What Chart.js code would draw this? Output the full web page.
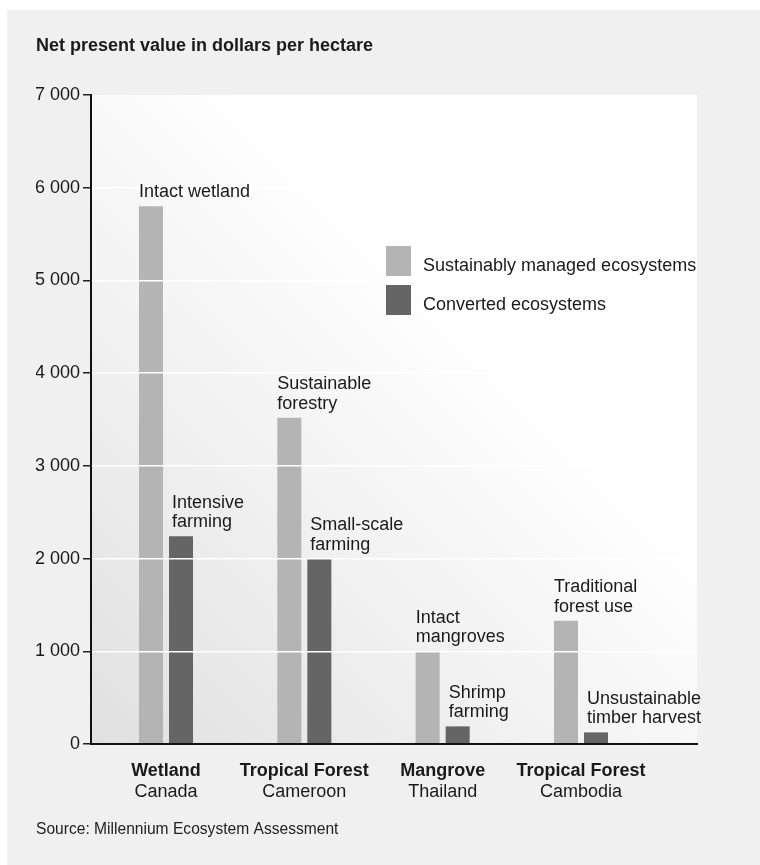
<!DOCTYPE html>
<html lang="en">
<head>
<meta charset="UTF-8">
<title>Net present value in dollars per hectare</title>
<script src="https://cdn.jsdelivr.net/npm/chart.js@4"></script>
<style>
  html, body { margin: 0; padding: 0; background: #ffffff; }
  #chart { display: block; }
</style>
</head>
<body>
<canvas id="chart" width="760" height="865"></canvas>
<script>
  // data
  const categories = ['Wetland', 'Tropical Forest', 'Mangrove', 'Tropical Forest'];
  const countries = ['Canada', 'Cameroon', 'Thailand', 'Cambodia'];
  const seriesNames = ['Sustainably managed ecosystems', 'Converted ecosystems'];
  const sustainable = [5800, 3520, 1000, 1330];
  const converted = [2240, 2000, 190, 125];
  const sustainableNotes = [['Intact wetland'], ['Sustainable', 'forestry'], ['Intact', 'mangroves'], ['Traditional', 'forest use']];
  const convertedNotes = [['Intensive', 'farming'], ['Small-scale', 'farming'], ['Shrimp', 'farming'], ['Unsustainable', 'timber harvest']];

  const FONT = "'Liberation Sans', Arial, sans-serif";
  const INK = '#1a1a1a';
  Chart.defaults.font.family = FONT;

  const thousands = v => String(v).replace(/\B(?=(\d{3})+(?!\d))/g, ' ');
  const catTicks = scale => { scale.ticks = categories.map((_, i) => ({ value: i })); };

  // grey panel + shaded plot area
  const backdrop = {
    id: 'backdrop',
    beforeDraw(chart) {
      const { ctx, chartArea: a } = chart;
      ctx.save();
      ctx.fillStyle = '#ffffff';
      ctx.fillRect(0, 0, chart.width, chart.height);
      ctx.fillStyle = '#f0f0f0';
      ctx.fillRect(7, 10, chart.width - 7, chart.height - 10);
      const g = ctx.createLinearGradient(a.left, a.bottom, a.left + 400, a.bottom - 400);
      g.addColorStop(0, '#e0e0e0');
      g.addColorStop(1, '#ffffff');
      ctx.fillStyle = g;
      ctx.fillRect(a.left, a.top, a.width, a.height);
      ctx.restore();
    }
  };

  // text above each bar, left aligned on the bar
  const barNotes = {
    id: 'barNotes',
    afterDraw(chart) {
      const ctx = chart.ctx;
      ctx.save();
      ctx.font = '18px ' + FONT;
      ctx.fillStyle = INK;
      ctx.textAlign = 'left';
      ctx.textBaseline = 'alphabetic';
      [sustainableNotes, convertedNotes].forEach((notes, d) => {
        chart.getDatasetMeta(d).data.forEach((bar, i) => {
          const lines = notes[i];
          const x = bar.x - bar.width / 2 + (d ? 3 : 0);
          lines.forEach((line, k) => {
            ctx.fillText(line, x, bar.y - 9 - (lines.length - 1 - k) * 19.5);
          });
        });
      });
      ctx.restore();
    }
  };

  // legend with tall boxes inside the plot
  const boxLegend = {
    id: 'boxLegend',
    afterDraw(chart) {
      const { ctx, chartArea: a } = chart;
      const x = a.left + 295, y0 = a.top + 151;
      ctx.save();
      ctx.font = '18px ' + FONT;
      ctx.textBaseline = 'alphabetic';
      chart.data.datasets.forEach((ds, i) => {
        const y = y0 + i * 39;
        ctx.fillStyle = ds.backgroundColor;
        ctx.fillRect(x, y, 25, 30);
        ctx.fillStyle = INK;
        ctx.fillText(ds.label, x + 37, y + 24.5);
      });
      ctx.restore();
    }
  };

  new Chart(document.getElementById('chart'), {
    type: 'bar',
    data: {
      datasets: [{
        label: seriesNames[0],
        data: sustainable.map((v, i) => ({ x: i, y: v })),
        backgroundColor: '#b4b4b4',
        categoryPercentage: 0.434,
        barPercentage: 0.8
      }, {
        label: seriesNames[1],
        data: converted.map((v, i) => ({ x: i, y: v })),
        backgroundColor: '#656565',
        categoryPercentage: 0.434,
        barPercentage: 0.8
      }]
    },
    options: {
      responsive: false,
      animation: false,
      devicePixelRatio: 1,
      layout: { padding: { left: 36, right: 63, top: 0, bottom: 0 } },
      plugins: {
        legend: { display: false },
        tooltip: { enabled: false },
        title: {
          display: true,
          text: 'Net present value in dollars per hectare',
          align: 'start',
          color: INK,
          font: { size: 18, weight: 'bold' },
          padding: { top: 35, bottom: 38.4 }
        },
        subtitle: {
          display: true,
          position: 'bottom',
          align: 'start',
          text: 'Source: Millennium Ecosystem Assessment',
          color: '#222',
          font: { size: 15.6 },
          padding: { top: 16.6, bottom: 25.7 }
        }
      },
      scales: {
        x: {
          type: 'linear',
          offset: false,
          min: -0.5422,
          max: 3.8387,
          afterBuildTicks: catTicks,
          afterFit: s => { s.height = 38; },
          grid: { display: false, drawTicks: false },
          border: { color: '#111', width: 2, z: 1 },
          ticks: {
            autoSkip: false,
            maxRotation: 0,
            padding: 16,
            color: INK,
            font: { size: 18, weight: 'bold' },
            callback: v => categories[v]
          }
        },
        x2: {
          type: 'linear',
          position: 'bottom',
          offset: false,
          min: -0.5422,
          max: 3.8387,
          afterBuildTicks: catTicks,
          afterFit: s => { s.height = 22; },
          grid: { display: false, drawTicks: false },
          border: { display: false },
          ticks: {
            autoSkip: false,
            maxRotation: 0,
            padding: 0.6,
            color: INK,
            font: { size: 18, lineHeight: 1 },
            callback: v => countries[v]
          }
        },
        y: {
          min: 0,
          max: 7000,
          afterFit: s => { s.width = 55; },
          border: { color: '#111', width: 2, z: 1 },
          grid: {
            z: 1,
            lineWidth: 1.5,
            color: c => (c.tick && (c.tick.value === 0 || c.tick.value === 7000)) ? 'rgba(0,0,0,0)' : '#ffffff',
            tickLength: 8,
            tickColor: '#222',
            tickWidth: 1.5
          },
          ticks: {
            stepSize: 1000,
            padding: 3,
            color: INK,
            font: { size: 18 },
            callback: thousands
          }
        }
      }
    },
    plugins: [backdrop, barNotes, boxLegend]
  });
</script>
</body>
</html>
